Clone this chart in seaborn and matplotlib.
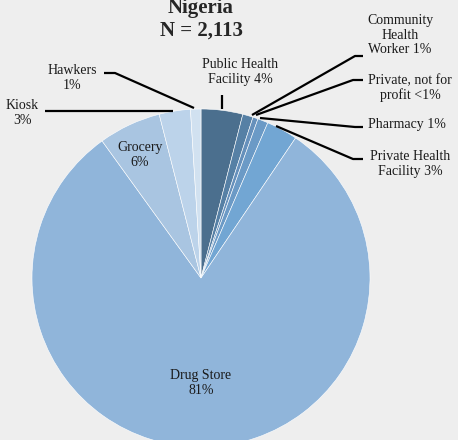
import matplotlib
matplotlib.use("Agg")
import matplotlib.pyplot as plt
import seaborn as sns

sns.set_style("white")
plt.rcParams["font.family"] = ["Liberation Serif", "DejaVu Serif"]

categories = ["Public Health Facility", "Community Health Worker", "Private, not for profit",
              "Pharmacy", "Private Health Facility", "Drug Store", "Grocery", "Kiosk", "Hawkers"]
shares = [4, 1, 0.5, 1, 3, 81, 6, 3, 1]
share_labels = ["4%", "1%", "<1%", "1%", "3%", "81%", "6%", "3%", "1%"]
colors = ["#4b6f8e", "#5680a5", "#6690bb", "#6b9ac6", "#72a6d3", "#90b5da",
          "#a9c5e1", "#bcd3ea", "#d1e1f0"]

title = "Nigeria\nN = 2,113"

W, H = 458, 440
bg = "#eeeeee"
fig = plt.figure(figsize=(W / 100, H / 100), dpi=100, facecolor=bg)
ax = fig.add_axes([0, 0, 1, 1])
ax.set_facecolor(bg)

cx, cy, r = 201, H - 278, 169
ax.pie(shares, colors=colors, startangle=90, counterclock=False,
       center=(cx, cy), radius=r,
       wedgeprops=dict(edgecolor="white", linewidth=0.4))
ax.set_xlim(0, W)
ax.set_ylim(0, H)
ax.set_aspect("equal")
ax.axis("off")


def py(y):
    return H - y


fs = 10
ls = 1.15
ax.text(201, py(19), title, ha="center", va="center", fontsize=15,
        fontweight="bold", linespacing=1.2)

# labels placed outside with leader lines
outside = [
    (0, "Public Health\nFacility 4%", (240, 72), [(222, 95), (222, 109)]),
    (1, "Community\nHealth\nWorker 1%", (400, 35), [(363, 56), (355, 56), (252, 115)]),
    (2, "Private, not for\nprofit <1%", (410, 88), [(363, 80), (353, 80), (256, 115)]),
    (3, "Pharmacy 1%", (407, 124), [(363, 127), (355, 127), (260, 118)]),
    (4, "Private Health\nFacility 3%", (410, 164), [(363, 159), (353, 159), (276, 126)]),
    (8, "Hawkers\n1%", (72, 78), [(104, 73), (115, 73), (194, 108)]),
    (7, "Kiosk\n3%", (22, 113), [(45, 111), (173, 111)]),
]
for idx, txt, (tx, ty), pts in outside:
    ax.text(tx, py(ty), txt, ha="center", va="center", fontsize=fs, linespacing=ls,
            color="#1a1a1a")
    xs = [p[0] for p in pts]
    ys = [py(p[1]) for p in pts]
    ax.plot(xs, ys, color="black", linewidth=1.6, solid_capstyle="butt")

# labels drawn inside their slices
ax.text(140, py(155), f"{categories[6]}\n{share_labels[6]}", ha="center", va="center",
        fontsize=fs, linespacing=ls, color="#1a1a1a")
ax.text(201, py(383), f"{categories[5]}\n{share_labels[5]}", ha="center", va="center",
        fontsize=fs, linespacing=ls, color="#1a1a1a")

fig.savefig("out.png", dpi=100, facecolor=bg)
